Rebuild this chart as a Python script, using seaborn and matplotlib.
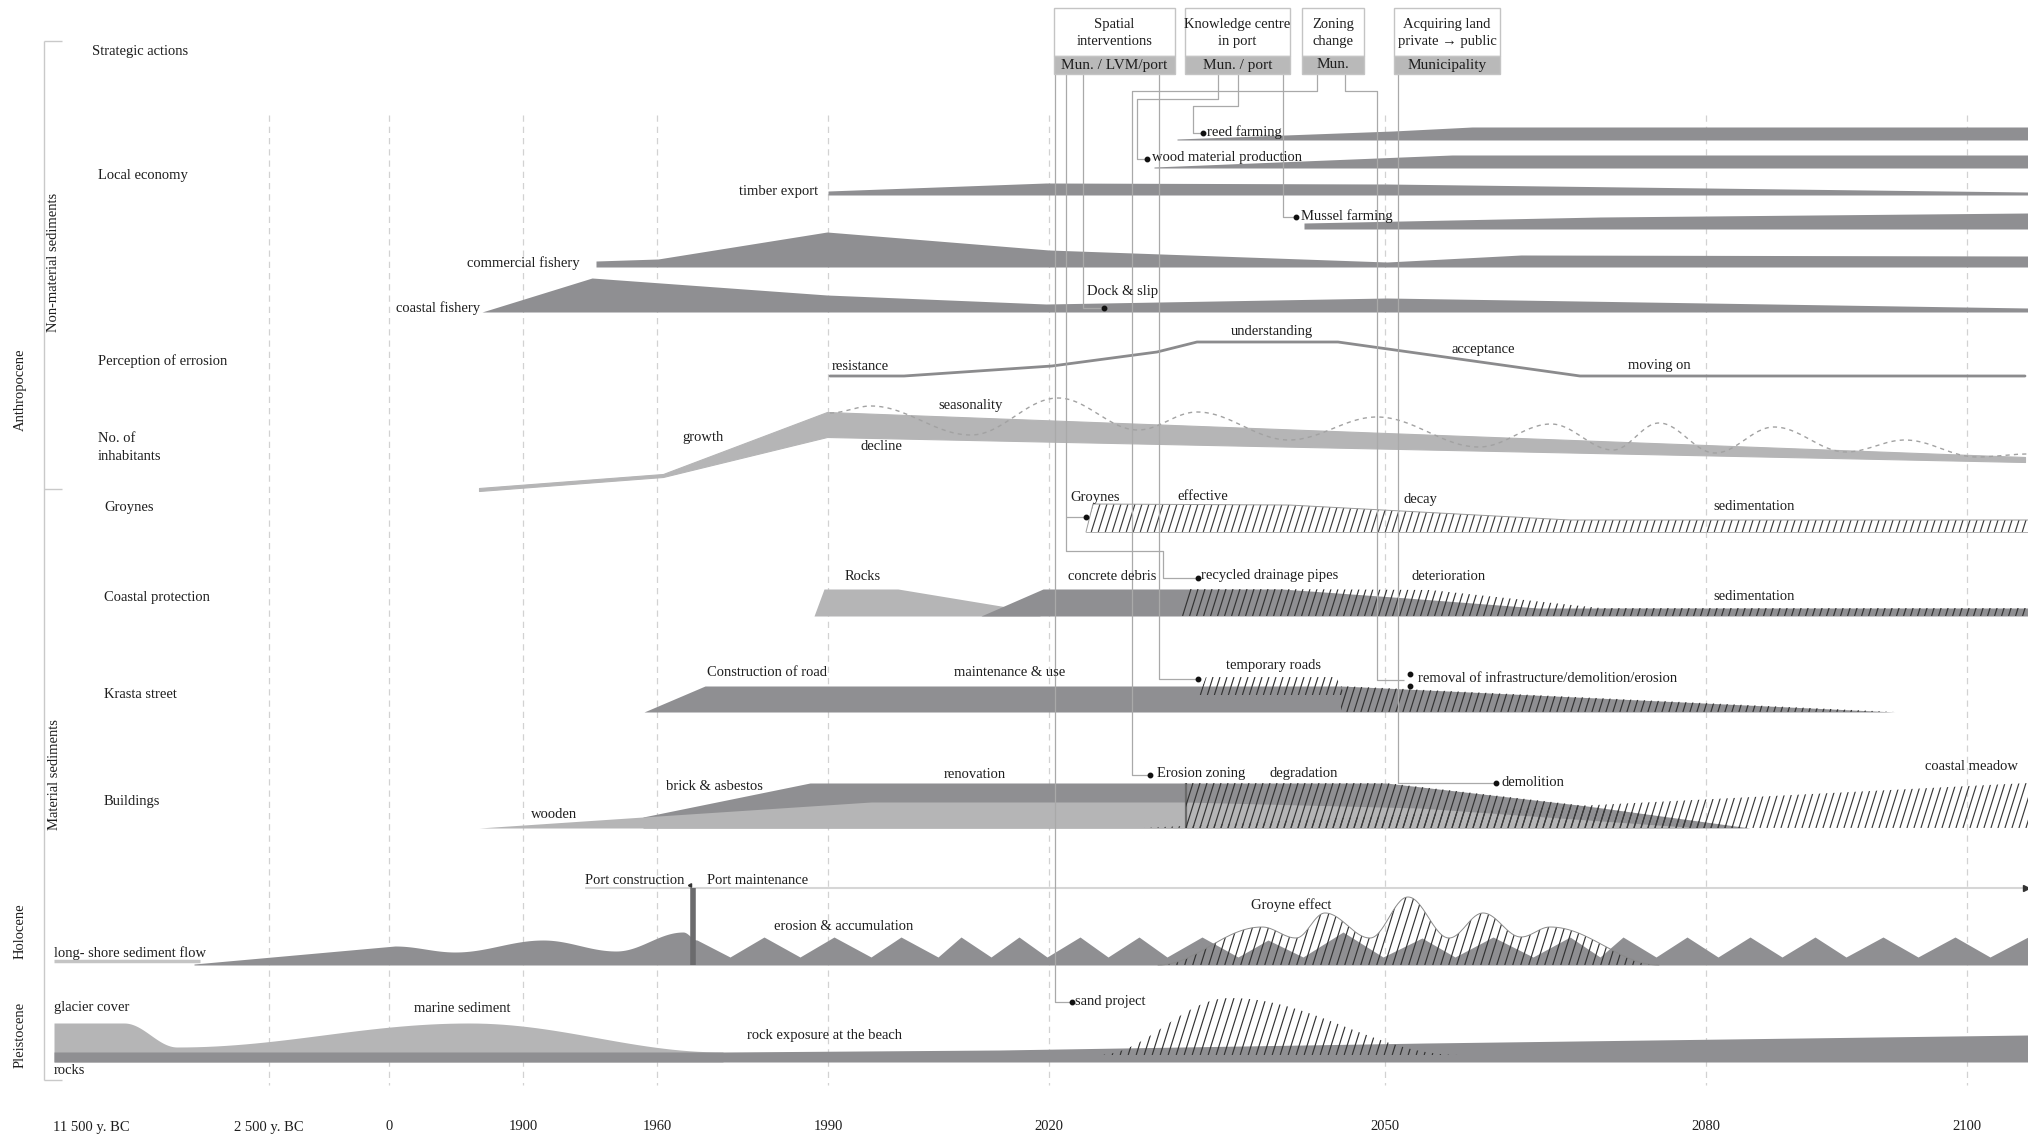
import numpy as np
import matplotlib
matplotlib.use("Agg")
import matplotlib.pyplot as plt
from matplotlib.patches import Polygon, Rectangle
from matplotlib.collections import LineCollection
import seaborn as sns

# ---- timeline axis (schematic, positions along the drawn timeline) ----
TICK_LABELS = ['11 500 y. BC', '2 500 y. BC', '0', '1900', '1960', '1990', '2020', '2050', '2080', '2100']
TICK_POS = [53, 269, 389, 523, 657, 828, 1049, 1385, 1706, 1967]

# ---- Local economy bands: x along timeline, thickness of band ----
REED_X = [1177, 1393, 1472, 2028]
REED_H = [1, 9, 13, 13]
WOOD_X = [1154, 1377, 1452, 2028]
WOOD_H = [1, 10, 13, 13]
TIMBER_X = [828, 1046, 1387, 2028]
TIMBER_H = [4, 12, 11, 3]
MUSSEL_X = [1304, 1600, 2028]
MUSSEL_H = [6, 12, 16]
COMM_FISH_X = [596, 658, 827, 1049, 1387, 1521, 2028]
COMM_FISH_H = [6, 8, 35, 17, 5, 12, 11]
COAST_FISH_X = [482, 592, 827, 1046, 1387, 2028]
COAST_FISH_H = [0, 34, 17, 8, 14, 4]

# ---- Perception of erosion (level above baseline) ----
PERC_X = [830, 904, 1052, 1157, 1197, 1338, 1580, 2025]
PERC_LEVEL = [0, 0, 10, 24, 34, 34, 0, 0]

# ---- No. of inhabitants ----
INHAB_X = [479, 663, 827, 2025]
INHAB_UPPER = [488, 474, 412, 457]
INHAB_LOWER = [491, 477, 437, 462]
SEASON_X = [830, 871, 971, 1058, 1138, 1197, 1289, 1377, 1479, 1551, 1613, 1659, 1715, 1774, 1846, 1905, 1977, 2028]
SEASON_Y = [413, 406, 435, 398, 430, 412, 440, 417, 447, 424, 450, 423, 453, 427, 452, 440, 457, 454]

# ---- Groynes ----
GROYNE_X = [1086, 1093, 1289, 1570, 2028]
GROYNE_H = [0, 28, 27, 12, 12]

# ---- Coastal protection ----
ROCKS_X = [814, 824, 898, 1001, 1040]
ROCKS_H = [0, 27, 27, 10, 4]
CONCRETE_X = [981, 1043, 1282, 1407, 1538, 2028]
CONCRETE_H = [0, 27, 27, 18, 8, 8]
PIPES_X = [1177, 1187, 1282, 1430, 1600, 2028]
PIPES_H = [0, 27, 27, 26, 8, 8]

# ---- Krasta street ----
ROAD_X = [644, 705, 1341, 1895]
ROAD_H = [0, 26, 26, 0]
TEMP_ROAD_X = [1199, 1206, 1336, 1345]
TEMP_ROAD_H = [0, 18, 18, 0]

# ---- Buildings ----
WOODEN_X = [479, 643, 871, 1186, 1420, 1700]
WOODEN_H = [0, 11, 26, 26, 20, 0]
BRICK_X = [643, 810, 1386, 1587, 1750]
BRICK_H = [11, 45, 45, 22, 0]
DEGRAD_X = [1186, 1386, 1587, 1750]
DEGRAD_H = [45, 45, 22, 0]
MEADOW_X = [1144, 2028]
MEADOW_H = [0, 45]

# ---- Holocene: long-shore sediment flow ----
FLOW_X = [194, 395, 455, 543, 616, 683, 697]
FLOW_H = [1, 19, 13, 25, 14, 33, 25]
ZIG_X = [697, 730, 764, 800, 834, 871, 901, 938, 961, 991, 1019, 1047, 1080, 1108, 1139, 1167,
         1202, 1238, 1268, 1303, 1343, 1383, 1422, 1455, 1493, 1533, 1570, 1600, 1623, 1656,
         1687, 1718, 1750, 1782, 1815, 1846, 1883, 1918, 1955, 1990, 2028]
ZIG_H = [25, 8, 28, 8, 28, 8, 28, 8, 28, 8, 28, 8, 28, 8, 28, 8,
         28, 8, 25, 8, 33, 8, 27, 8, 28, 8, 28, 8, 28, 8,
         28, 8, 28, 8, 28, 8, 28, 8, 28, 8, 28]
GROYNE_FX_X = [1158, 1262, 1296, 1325, 1370, 1408, 1449, 1483, 1521, 1550, 1659]
GROYNE_FX_H = [0, 38, 27, 52, 27, 68, 27, 52, 28, 38, 0]

# ---- Pleistocene ----
MARINE_X = [54, 124, 177, 469, 723]
MARINE_H = [29, 29, 5, 29, 0]
ROCK_X = [54, 723, 1000, 1426, 2028]
ROCK_H = [10, 10, 12, 19, 27]
SAND_X = [1098, 1230, 1459]
SAND_H = [0, 57, 0]

# ---- Strategic actions ----
ACTIONS = ['Spatial\ninterventions', 'Knowledge centre\nin port', 'Zoning\nchange', 'Acquiring land\nprivate \u2192 public']
ACTORS = ['Mun. / LVM/port', 'Mun. / port', 'Mun.', 'Municipality']

# ---- layout ----
BASE = dict(reed=140, wood=168, timber=195, mussel=229, comm=267, coast=312, perc=376,
            groyne=532, protect=616, road=712, temp=695, build=828, flow=965,
            rock=1062, marine=1052, sand=1055)
BOX_X = [(1054, 1175), (1185, 1290), (1302, 1364), (1394, 1500)]
DARK = '#8f8f92'
LIGHT = '#b5b5b6'
HATCH = '#333333'
LINK = '#a9a9a9'
TXT = '#1e1e1e'
FS = 10.5


def wave(xs, ys, n=30):
    px, py = [], []
    for i in range(len(xs) - 1):
        t = np.linspace(0, 1, n, endpoint=False)
        s = (1 - np.cos(np.pi * t)) / 2
        px.append(xs[i] + (xs[i + 1] - xs[i]) * t)
        py.append(ys[i] + (ys[i + 1] - ys[i]) * s)
    px.append([xs[-1]])
    py.append([ys[-1]])
    return np.concatenate(px), np.concatenate(py)


def band(ax, xs, hs, base, color, z=2):
    xs = np.asarray(xs, float)
    top = base - np.asarray(hs, float)
    ax.fill_between(xs, base, top, color=color, lw=0, zorder=z)


def hatch(ax, xs, top, bottom, color=HATCH, spacing=7.0, slope=3.2, lw=0.85, z=4, outline=None):
    xs = np.asarray(xs, float)
    top = np.broadcast_to(np.asarray(top, float), xs.shape)
    bottom = np.broadcast_to(np.asarray(bottom, float), xs.shape)
    verts = list(zip(xs, top)) + list(zip(xs[::-1], bottom[::-1]))
    poly = Polygon(verts, closed=True, facecolor='none', edgecolor='none', zorder=z)
    ax.add_patch(poly)
    y0, y1 = top.min(), bottom.max()
    dx = (y1 - y0) / slope
    segs = [[(x0, y1), (x0 + dx, y0)] for x0 in np.arange(xs.min() - dx, xs.max() + spacing, spacing)]
    lc = LineCollection(segs, colors=color, linewidths=lw, zorder=z)
    ax.add_collection(lc)
    lc.set_clip_path(poly)
    if outline:
        ax.plot(xs, top, color=outline, lw=0.7, zorder=z)


def label(ax, x, y, s, ha='left', size=FS, **kw):
    ax.text(x, y, s, ha=ha, va='center', fontsize=size, color=TXT, zorder=8, **kw)


def main():
    sns.set_theme(style='white')
    plt.rcParams['font.family'] = ['Liberation Serif', 'DejaVu Serif']

    fig = plt.figure(figsize=(20.28, 11.40), dpi=100)
    ax = fig.add_axes([0, 0, 1, 1])

    # grid
    ax.vlines(TICK_POS[1:], 115, 1085, colors='#d2d2d2', linestyles=(0, (5, 4)), lw=0.9, zorder=0)
    for p, t in zip(TICK_POS, TICK_LABELS):
        ax.text(p, 1127, t, ha='left' if t.startswith('11') else 'center', va='center',
                fontsize=FS, color=TXT)

    # left brackets
    ax.vlines(44, 41, 1080, colors='#c9c9c9', lw=1)
    ax.hlines([41, 489, 1080], 44, 62, colors='#c9c9c9', lw=1)
    for y, s in [(390, 'Anthropocene'), (931, 'Holocene'), (1035, 'Pleistocene')]:
        ax.text(20, y, s, rotation=90, ha='center', va='center', fontsize=FS, color=TXT)
    for y, s in [(262, 'Non-material sediments'), (775, 'Material sediments')]:
        ax.text(54, y, s, rotation=90, ha='center', va='center', fontsize=FS, color=TXT)

    # row labels
    label(ax, 92, 52, 'Strategic actions')
    label(ax, 98, 176, 'Local economy')
    label(ax, 98, 361, 'Perception of errosion')
    label(ax, 98, 448, 'No. of\ninhabitants', linespacing=1.5)
    label(ax, 104, 508, 'Groynes')
    label(ax, 104, 598, 'Coastal protection')
    label(ax, 104, 694, 'Krasta street')
    label(ax, 104, 802, 'Buildings')

    # local economy
    band(ax, REED_X, REED_H, BASE['reed'], DARK)
    band(ax, WOOD_X, WOOD_H, BASE['wood'], DARK)
    band(ax, TIMBER_X, TIMBER_H, BASE['timber'], DARK)
    band(ax, MUSSEL_X, MUSSEL_H, BASE['mussel'], DARK)
    band(ax, COMM_FISH_X, COMM_FISH_H, BASE['comm'], DARK)
    band(ax, COAST_FISH_X, COAST_FISH_H, BASE['coast'], DARK)
    label(ax, 818, 192, 'timber export', ha='right')
    label(ax, 580, 263, 'commercial fishery', ha='right')
    label(ax, 480, 308, 'coastal fishery', ha='right')
    label(ax, 1207, 132, 'reed farming')
    label(ax, 1152, 158, 'wood material production')
    label(ax, 1301, 216, 'Mussel farming')
    label(ax, 1087, 291, 'Dock & slip')

    # perception
    sns.lineplot(x=PERC_X, y=BASE['perc'] - np.asarray(PERC_LEVEL), ax=ax, color='#8b8b8d', lw=2, zorder=3)
    label(ax, 832, 366, 'resistance')
    label(ax, 1272, 332, 'understanding', ha='center')
    label(ax, 1483, 350, 'acceptance', ha='center')
    label(ax, 1659, 366, 'moving on', ha='center')

    # inhabitants
    ax.fill_between(INHAB_X, INHAB_LOWER, INHAB_UPPER, color=LIGHT, lw=0.8, edgecolor=LIGHT, zorder=2)
    sx, sy = wave(SEASON_X, SEASON_Y)
    sns.lineplot(x=sx, y=sy, ax=ax, color='#a2a2a2', lw=1.0, dashes=False, zorder=3,
                 linestyle=(0, (3, 3)), sort=False, estimator=None)
    label(ax, 971, 406, 'seasonality', ha='center')
    label(ax, 703, 438, 'growth', ha='center')
    label(ax, 881, 446, 'decline', ha='center')

    # groynes
    gx = np.asarray(GROYNE_X, float)
    hatch(ax, gx, BASE['groyne'] - np.asarray(GROYNE_H), BASE['groyne'], color='#3c3c3c', outline='#9a9a9a')
    ax.plot(gx, np.full_like(gx, BASE['groyne']), color='#b0b0b0', lw=0.7, zorder=4)
    label(ax, 1070, 497, 'Groynes')
    label(ax, 1177, 497, 'effective')
    label(ax, 1403, 500, 'decay')
    label(ax, 1713, 507, 'sedimentation')

    # coastal protection
    band(ax, ROCKS_X, ROCKS_H, BASE['protect'], LIGHT)
    band(ax, CONCRETE_X, CONCRETE_H, BASE['protect'], DARK)
    hatch(ax, PIPES_X, BASE['protect'] - np.asarray(PIPES_H), BASE['protect'])
    label(ax, 845, 576, 'Rocks')
    label(ax, 1068, 576, 'concrete debris')
    label(ax, 1201, 576, 'recycled drainage pipes')
    label(ax, 1411, 576, 'deterioration')
    label(ax, 1713, 597, 'sedimentation')

    # krasta street
    band(ax, ROAD_X, ROAD_H, BASE['road'], DARK)
    hatch(ax, TEMP_ROAD_X, BASE['temp'] - np.asarray(TEMP_ROAD_H), BASE['temp'])
    hatch(ax, ROAD_X[2:], BASE['road'] - np.asarray(ROAD_H[2:]), BASE['road'])
    label(ax, 707, 672, 'Construction of road')
    label(ax, 954, 672, 'maintenance & use')
    label(ax, 1226, 665, 'temporary roads')
    label(ax, 1418, 679, 'removal of infrastructure/demolition/erosion')

    # buildings
    band(ax, BRICK_X, BRICK_H, BASE['build'], DARK)
    band(ax, WOODEN_X, WOODEN_H, BASE['build'], LIGHT)
    ax.vlines(DEGRAD_X[0], BASE['build'] - DEGRAD_H[0], BASE['build'], colors='#6a6a6a', lw=1.6, zorder=3)
    hatch(ax, DEGRAD_X, BASE['build'] - np.asarray(DEGRAD_H), BASE['build'])
    hatch(ax, MEADOW_X, BASE['build'] - np.asarray(MEADOW_H), BASE['build'], color='#3a3a3a')
    label(ax, 531, 815, 'wooden')
    label(ax, 666, 787, 'brick & asbestos')
    label(ax, 944, 774, 'renovation')
    label(ax, 1157, 774, 'Erosion zoning')
    label(ax, 1269, 774, 'degradation')
    label(ax, 1502, 782, 'demolition')
    label(ax, 1925, 766, 'coastal meadow')

    # holocene
    fx, fy = wave(FLOW_X[1:], FLOW_H[1:])
    flow_x = np.concatenate([[FLOW_X[0]], fx, ZIG_X[1:]])
    flow_h = np.concatenate([[FLOW_H[0]], fy, ZIG_H[1:]])
    band(ax, flow_x, flow_h, BASE['flow'], DARK)
    ax.hlines(961, 54, 200, colors='#c4c4c4', lw=2.5, zorder=2)
    ax.hlines(888, 585, 2024, colors='#d6d6d6', lw=1.5, zorder=2)
    ax.plot([2026], [888], marker='>', ms=4, color='#333333', zorder=3)
    ax.plot([690], [885], marker=(3, 0, -30), ms=3, color='#333333', zorder=3)
    ax.vlines(693, 888, BASE['flow'], colors='#6b6b6d', lw=4, zorder=3)
    gfx, gfh = wave(GROYNE_FX_X, GROYNE_FX_H)
    hatch(ax, gfx, BASE['flow'] - gfh, BASE['flow'], spacing=8, outline='#8a8a8a')
    label(ax, 585, 881, 'Port construction')
    label(ax, 707, 881, 'Port maintenance')
    label(ax, 54, 953, 'long- shore sediment flow')
    label(ax, 774, 927, 'erosion & accumulation')
    label(ax, 1251, 905, 'Groyne effect')

    # pleistocene
    mx, mh = wave(MARINE_X, MARINE_H)
    ax.fill_between(mx, BASE['rock'], BASE['marine'] - mh, color=LIGHT, lw=0, zorder=2)
    band(ax, ROCK_X, ROCK_H, BASE['rock'], DARK)
    sx2, sh2 = wave(SAND_X, SAND_H)
    hatch(ax, sx2, BASE['sand'] - sh2, BASE['sand'], spacing=8)
    label(ax, 54, 1008, 'glacier cover')
    label(ax, 462, 1008, 'marine sediment', ha='center')
    label(ax, 747, 1035, 'rock exposure at the beach')
    label(ax, 54, 1071, 'rocks')
    label(ax, 1075, 1001, 'sand project')

    # strategic action boxes
    for (x0, x1), act, who in zip(BOX_X, ACTIONS, ACTORS):
        ax.add_patch(Rectangle((x0, 8), x1 - x0, 48, facecolor='white', edgecolor='#c4c4c4', lw=1, zorder=6))
        ax.add_patch(Rectangle((x0, 56), x1 - x0, 18, facecolor='#b9b9b9', edgecolor='#c4c4c4', lw=1, zorder=6))
        ax.text((x0 + x1) / 2, 33, act, ha='center', va='center', fontsize=FS, color=TXT,
                linespacing=1.35, zorder=7)
        ax.text((x0 + x1) / 2, 65, who, ha='center', va='center', fontsize=FS + 0.5, color=TXT, zorder=7)

    # leader lines from actions to interventions
    links = [
        [(1055, 74), (1055, 1002), (1072, 1002)],
        [(1066, 74), (1066, 551), (1163, 551), (1163, 578), (1198, 578)],
        [(1066, 517), (1086, 517)],
        [(1083, 74), (1083, 308), (1104, 308)],
        [(1159, 74), (1159, 679), (1198, 679)],
        [(1218, 74), (1218, 99), (1137, 99), (1137, 159), (1147, 159)],
        [(1238, 74), (1238, 106), (1193, 106), (1193, 133), (1203, 133)],
        [(1283, 74), (1283, 217), (1296, 217)],
        [(1317, 74), (1317, 91), (1132, 91), (1132, 775), (1150, 775)],
        [(1345, 74), (1345, 91), (1377, 91), (1377, 680), (1404, 680)],
        [(1398, 74), (1398, 783), (1496, 783)],
    ]
    ax.add_collection(LineCollection(links, colors=LINK, linewidths=0.9, zorder=5))
    ends = [seg[-1] for seg in links if seg[-1][0] != 1404] + [(1410, 674), (1410, 686)]
    ax.plot([p[0] for p in ends], [p[1] for p in ends], 'o', ms=3.2, color='#111111', zorder=7, lw=0)

    ax.set_xlim(0, 2028)
    ax.set_ylim(1140, 0)
    ax.axis('off')
    fig.savefig('out.png', dpi=100, facecolor='white')


if __name__ == '__main__':
    main()
